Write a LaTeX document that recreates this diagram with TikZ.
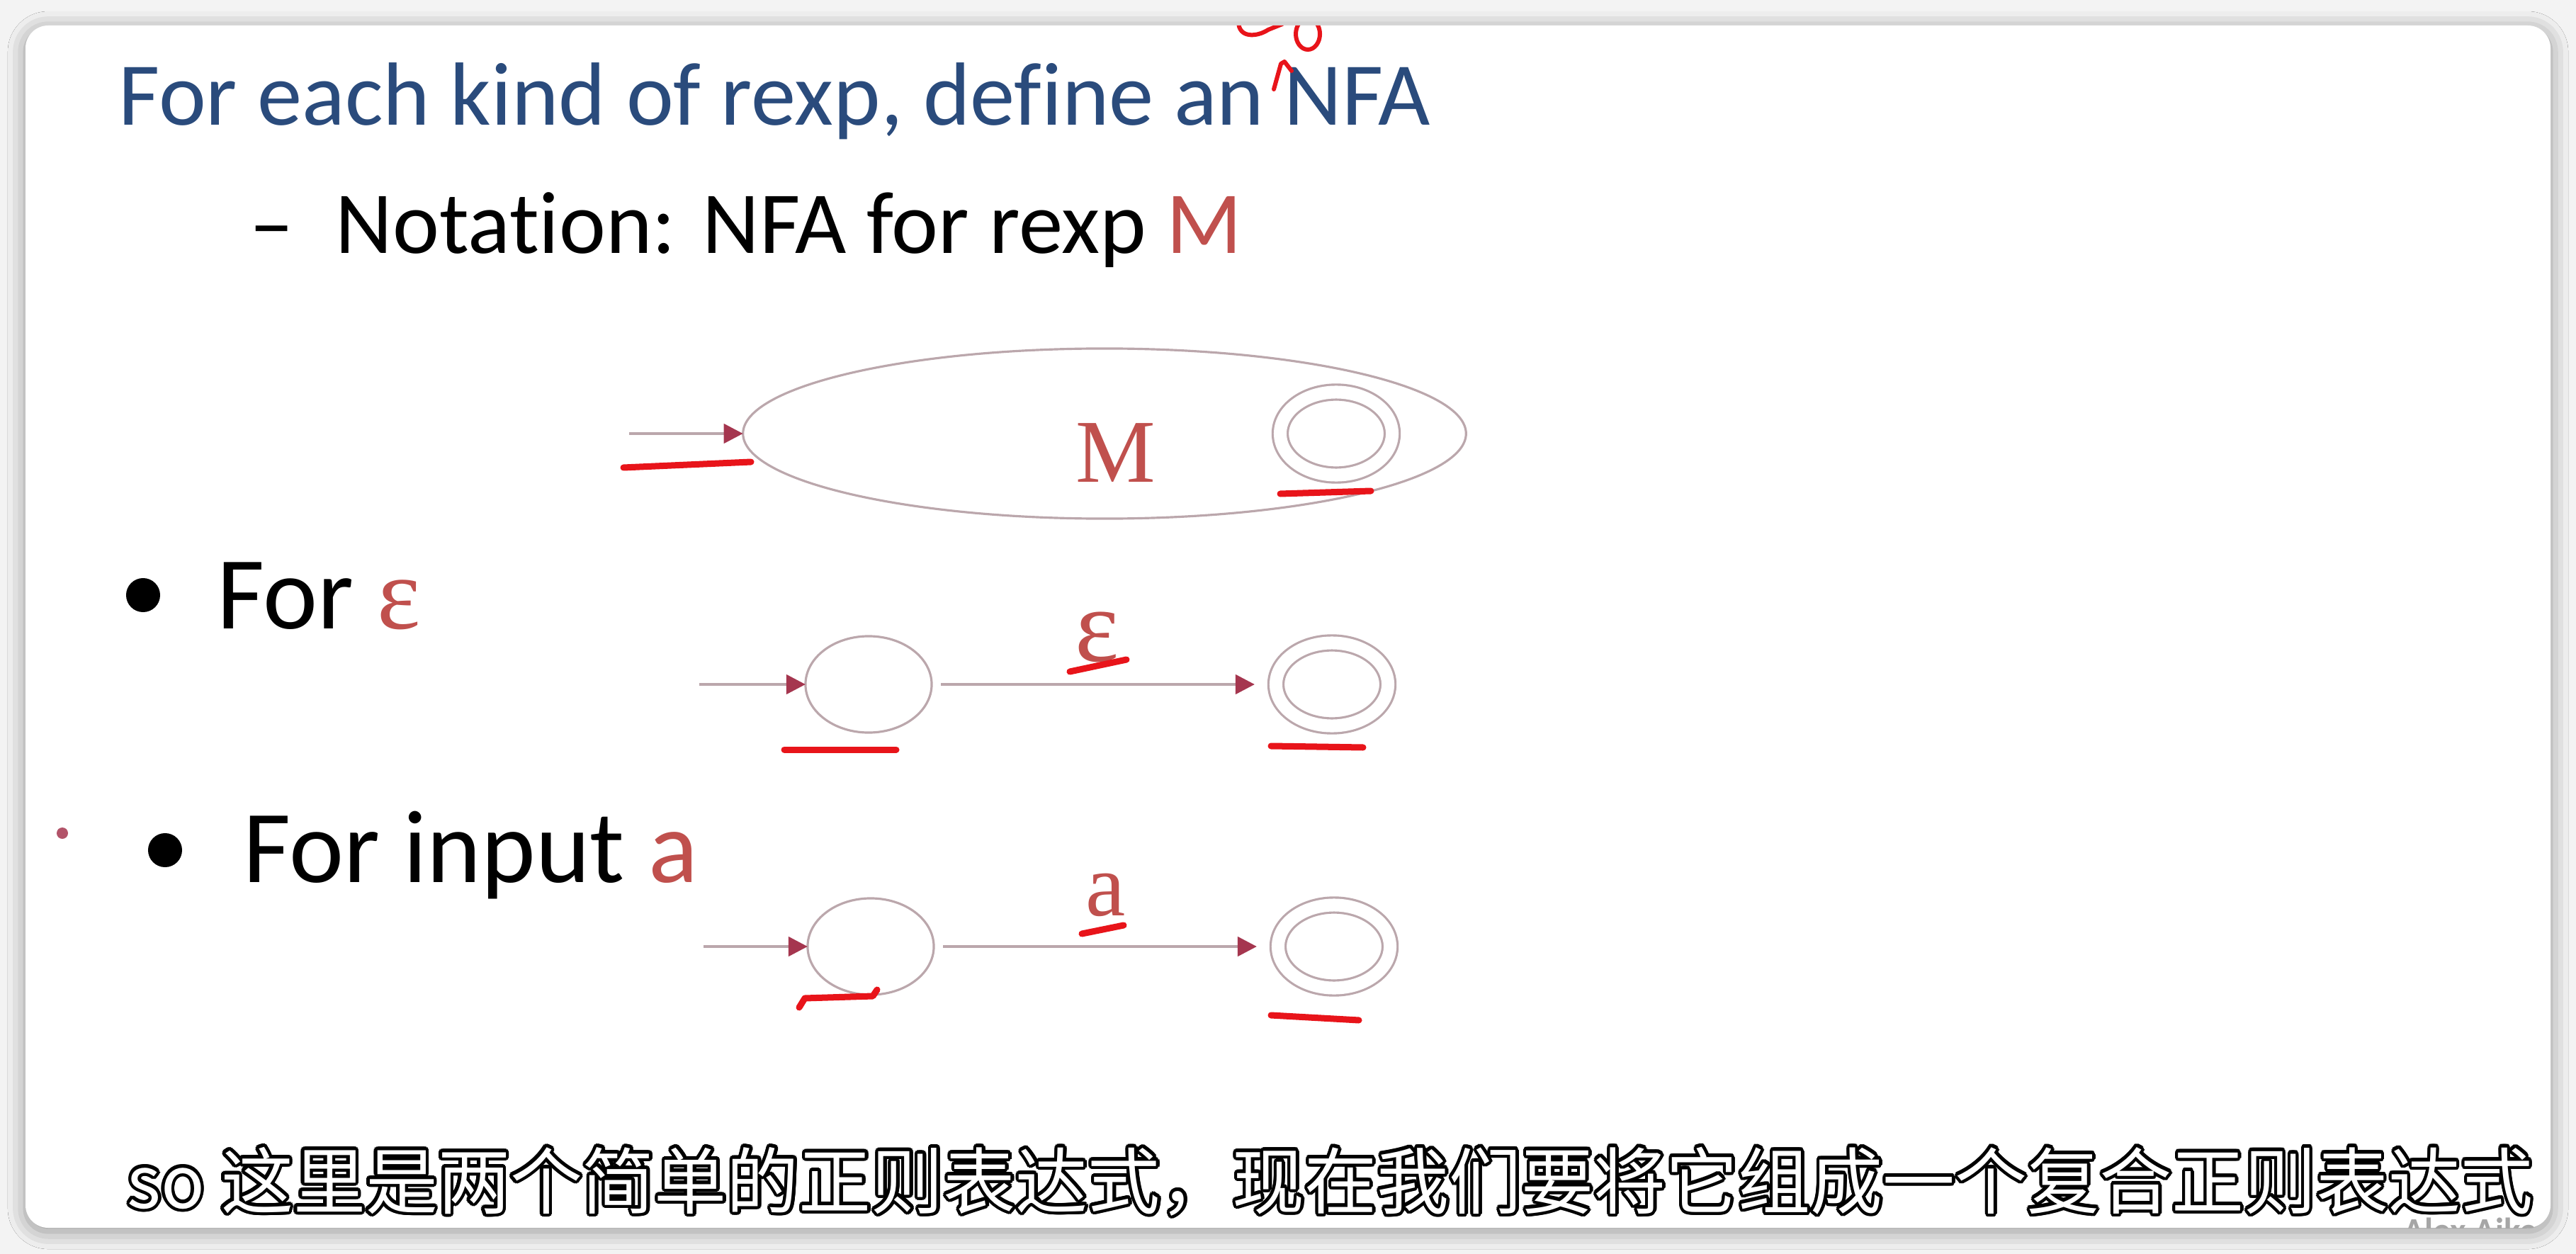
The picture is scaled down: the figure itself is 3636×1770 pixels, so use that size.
\documentclass[tikz,border=0pt]{standalone}
\usepackage{fontspec}
\setmainfont{Carlito}[Ligatures=NoCommon,Contextuals=NoAlternate]
\newfontfamily\rmtimes{Liberation Serif}
\newfontfamily\cjk{Noto Sans CJK SC}
\usepackage{contour}
\contourlength{0.045cm}
\usepackage{xcolor}
\usetikzlibrary{positioning,arrows.meta,shapes.geometric,shadows.blur}
\definecolor{slideblue}{HTML}{2A4B7C}
\definecolor{rexpred}{HTML}{C0504D}
\definecolor{edgegray}{HTML}{BBA7AC}
\definecolor{tipred}{HTML}{A5364F}
\definecolor{inkred}{HTML}{E8141A}
\definecolor{pagegray}{HTML}{F3F3F3}
\tikzset{
  txt/.style={anchor=base west,inner sep=0pt},
  state/.style={draw=edgegray,ellipse,line width=0.9pt,inner sep=0pt,outer sep=0pt,minimum width=1.78cm,minimum height=1.36cm},
  accept/.style={state,double=white,double distance=0.18cm,minimum width=1.58cm,minimum height=1.17cm},
  arr/.style={draw=edgegray,line width=1.3pt,-{Triangle[length=0.27cm,width=0.27cm,color=tipred]}},
  lab/.style={anchor=base,inner sep=0pt,text=rexpred,font=\rmtimes\fontsize{36}{40}\selectfont},
  ink/.style={draw=inkred,line width=0.09cm,line cap=round,line join=round},
  bul/.style={circle,fill=black,inner sep=0pt,minimum size=0.48cm}
}

\begin{document}
\begin{tikzpicture}[x=0.01cm,y=-0.01cm]
\useasboundingbox (0,0) rectangle (3636,1770);
\fill[pagegray] (0,0) rectangle (3636,1770);
\path[fill=white,rounded corners=0.32cm,blur shadow={shadow xshift=0cm,shadow yshift=-0.05cm,shadow blur radius=0.25cm,shadow opacity=40}] (36,36) rectangle (3600,1733);

\begin{scope}
\clip[rounded corners=0.32cm] (36,36) rectangle (3600,1733);
\draw[ink,line width=0.06cm] (1748,30) .. controls (1748,55) and (1775,52) .. (1790,42) -- (1810,34);
\draw[ink,line width=0.06cm] (1846,48) ellipse [x radius=0.17cm,y radius=0.22cm];
\node[anchor=north west,inner sep=0pt,text=gray!70,font=\bfseries\fontsize{14}{16}\selectfont] (credit) at (3392,1718) {Alex Aiken};
\end{scope}

\node[txt,text=slideblue,font=\fontsize{36}{40}\selectfont] (title) at (167,177) {For each kind of rexp, define an NFA};
\node[txt,font=\fontsize{35.5}{40}\selectfont] (dash) at (352,358) {–};
\node[txt,font=\fontsize{35.5}{40}\selectfont] (notation) at (473,358) {Notation: NFA for rexp \textcolor{rexpred}{M}};
\node[bul] (b1) at (202,840) {};
\node[txt,font=\fontsize{41.5}{46}\selectfont] (foreps) at (306,887) {For \textcolor{rexpred}{\rmtimes ε}};
\node[bul] (b2) at (233,1200) {};
\node[txt,font=\fontsize{41.5}{46}\selectfont] (fora) at (343,1245) {For input \textcolor{rexpred}{a}};

\coordinate (min) at (888,612);
\node[state,minimum width=10.2cm,minimum height=2.4cm] (mbox) at (1559,612) {};
\node[accept] (mfin) at (1886,612) {};
\node[lab] (mlab) at (1575,680) {M};
\draw[arr] (min) -- (mbox);

\coordinate (ein) at (987,966);
\node[state] (e0) at (1226,966) {};
\node[accept] (e1) at (1880,966) {};
\node[lab,font=\rmtimes\fontsize{42}{46}\selectfont] (elab) at (1548,933) {ε};
\draw[arr] (ein) -- (e0);
\draw[arr,shorten <=0.13cm,shorten >=0.3cm] (e0) -- (e1);

\coordinate (ain) at (993,1336);
\node[state] (a0) at (1229,1336) {};
\node[accept] (a1) at (1883,1336) {};
\node[lab] (alab) at (1561,1292) {a};
\draw[arr] (ain) -- (a0);
\draw[arr,shorten <=0.13cm,shorten >=0.3cm] (a0) -- (a1);

\fill[tipred,opacity=0.85] (88,1176) circle (0.08cm);
\draw[ink,line width=0.06cm] (1798,126) -- (1808,90) -- (1813,87) -- (1823,100);
\draw[ink] (880,660) -- (1060,652);
\draw[ink] (1807,697) -- (1935,693);
\draw[ink] (1510,948) -- (1590,931);
\draw[ink] (1107,1058) -- (1265,1058);
\draw[ink] (1794,1053) -- (1924,1055);
\draw[ink] (1527,1318) -- (1586,1306);
\draw[ink] (1128,1422) -- (1136,1409) -- (1232,1406) -- (1238,1397);
\draw[ink] (1794,1433) -- (1918,1440);

\node[txt,font=\cjk\fontsize{29}{32}\selectfont,text=white] (sub) at (179,1705) {\contour{black}{so 这里是两个简单的正则表达式，现在我们要将它组成一个复合正则表达式}};
\end{tikzpicture}
\end{document}
